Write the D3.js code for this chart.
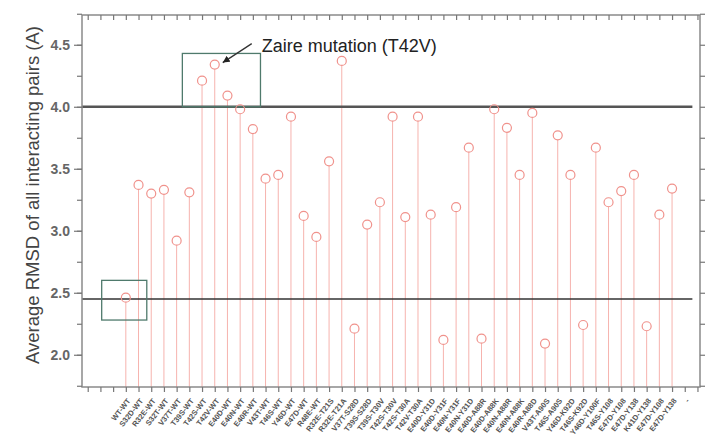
<!DOCTYPE html>
<html>
<head>
<meta charset="utf-8">
<script src="https://cdn.jsdelivr.net/npm/d3@7"></script>
<style>
  body { margin: 0; background: #fff; }
  svg { display: block; font-family: Arial, "Liberation Sans", sans-serif; }
</style>
</head>
<body>
<div id="chart"></div>
<script>
// mutant pair labels (index 0 = wild type)
const labels = [
  'WT-WT', 'S32D-WT', 'R32E-WT', 'S32T-WT', 'V37T-WT', 'T39S-WT', 'T42S-WT', 'T42V-WT',
  'E40D-WT', 'E40N-WT', 'E40R-WT', 'V43T-WT', 'T46S-WT', 'Y46D-WT', 'E47D-WT', 'R48E-WT',
  'R32E-T21S', 'R32E-T21A', 'V37T-S28D', 'T39S-S28D', 'T39S-T30V', 'T42S-T30V', 'T42S-T30A',
  'T42V-T30A', 'E40D-Y31D', 'E40D-Y31F', 'E40N-Y31F', 'E40N-Y31D', 'E40D-A88R', 'E40D-A88K',
  'E40N-A88R', 'E40N-A88K', 'E40R-A88D', 'V43T-A90S', 'T46S-A90S', 'Y46D-K92D', 'T46S-K92D',
  'Y46D-Y100F', 'T46S-Y108', 'E47D-Y108', 'E47D-Y138', 'K41D-Y138', 'E47D-Y108', 'E47D-Y138'
];
// average RMSD of all interacting pairs (A)
const rmsd = [
  2.46, 3.37, 3.30, 3.33, 2.92, 3.31, 4.21, 4.34,
  4.09, 3.98, 3.82, 3.42, 3.45, 3.92, 3.12, 2.95,
  3.56, 4.37, 2.21, 3.05, 3.23, 3.92, 3.11,
  3.92, 3.13, 2.12, 3.19, 3.67, 2.13, 3.98,
  3.83, 3.45, 3.95, 2.09, 3.77, 3.45, 2.24,
  3.67, 3.23, 3.32, 3.45, 2.23, 3.13, 3.34
];
const yTicks = [2.0, 2.5, 3.0, 3.5, 4.0, 4.5];
const refLines = [4.0, 2.45];
// highlight boxes: [x0, x1] in category index, [y0, y1] in RMSD
const boxes = [
  { x: [-1.9, 1.65], y: [2.28, 2.6] },
  { x: [4.45, 10.6], y: [4.0, 4.43] }
];
const note = { text: 'Zaire mutation (T42V)', target: 7 };

const width = 706, height = 445;
const m = { left: 82, right: 700, top: 15, bottom: 387 };

const svg = d3.select('#chart').append('svg')
  .attr('width', width)
  .attr('height', height);

const x = d3.scaleLinear().domain([-3.45, 45.2]).range([m.left, m.right]);
const y = d3.scaleLinear().domain([1.74, 4.74]).range([m.bottom, m.top]);

const xTickIdx = d3.range(-3, 46);
const pink = '#f0928c';

// stems
svg.append('g').selectAll('line')
  .data(rmsd)
  .join('line')
  .attr('x1', (d, i) => x(i))
  .attr('x2', (d, i) => x(i))
  .attr('y1', y(1.74))
  .attr('y2', d => y(d) + 4.5)
  .attr('stroke', '#f6b3ae')
  .attr('stroke-width', 1);

// reference lines
svg.append('g').selectAll('line')
  .data(refLines)
  .join('line')
  .attr('x1', m.left)
  .attr('x2', x(44.6))
  .attr('y1', d => y(d))
  .attr('y2', d => y(d))
  .attr('stroke', (d, i) => i === 0 ? '#555' : '#333')
  .attr('stroke-width', (d, i) => i === 0 ? 2.5 : 1.6);

// boxes
svg.append('g').selectAll('rect')
  .data(boxes)
  .join('rect')
  .attr('x', d => x(d.x[0]))
  .attr('y', d => y(d.y[1]))
  .attr('width', d => x(d.x[1]) - x(d.x[0]))
  .attr('height', d => y(d.y[0]) - y(d.y[1]))
  .attr('fill', 'none')
  .attr('stroke', '#4f7a6c')
  .attr('stroke-width', 1.3);

// markers
svg.append('g').selectAll('circle')
  .data(rmsd)
  .join('circle')
  .attr('cx', (d, i) => x(i))
  .attr('cy', d => y(d))
  .attr('r', 4.5)
  .attr('fill', 'none')
  .attr('stroke', pink)
  .attr('stroke-width', 1.2);

// frame
svg.append('rect')
  .attr('x', m.left).attr('y', m.top)
  .attr('width', m.right - m.left).attr('height', m.bottom - m.top)
  .attr('fill', 'none')
  .attr('stroke', '#8a8a8a')
  .attr('stroke-width', 1.5);

// axes
const yMinor = d3.range(1.75, 4.76, 0.25);
const axisStyle = g => {
  g.select('.domain').remove();
  g.selectAll('line').attr('stroke', '#777').attr('stroke-width', 1.2);
};

svg.append('g')
  .attr('transform', `translate(${m.left},0)`)
  .call(d3.axisLeft(y).tickValues(yMinor).tickSize(5).tickFormat(''))
  .call(axisStyle);
svg.append('g')
  .attr('transform', `translate(${m.left},0)`)
  .call(d3.axisLeft(y).tickValues(yTicks).tickSize(8).tickPadding(4).tickFormat(d3.format('.1f')))
  .call(axisStyle)
  .call(g => g.selectAll('text')
    .attr('font-size', 14).attr('font-weight', 'bold').attr('fill', '#666'));
svg.append('g')
  .attr('transform', `translate(${m.right},0)`)
  .call(d3.axisLeft(y).tickValues(yMinor).tickSize(-5).tickFormat(''))
  .call(axisStyle);
svg.append('g')
  .attr('transform', `translate(0,${m.bottom})`)
  .call(d3.axisBottom(x).tickValues(xTickIdx).tickSize(5).tickFormat(''))
  .call(axisStyle);
svg.append('g')
  .attr('transform', `translate(0,${m.top})`)
  .call(d3.axisBottom(x).tickValues(xTickIdx).tickSize(5).tickFormat(''))
  .call(axisStyle);

// category labels
const catLabels = labels.concat(['-']);
svg.append('g').selectAll('text')
  .data(catLabels)
  .join('text')
  .attr('transform', (d, i) => `translate(${x(i) + 5},${m.bottom + 14}) rotate(-52)`)
  .attr('text-anchor', 'end')
  .attr('font-size', 7.6)
  .attr('font-weight', 'bold')
  .attr('fill', '#555')
  .text(d => d);

// y title
svg.append('text')
  .attr('transform', `translate(39,${(m.top + m.bottom) / 2 - 6}) rotate(-90)`)
  .attr('text-anchor', 'middle')
  .attr('font-size', 18.5)
  .attr('fill', '#444')
  .text('Average RMSD of all interacting pairs (A)');

// annotation
svg.append('defs').append('marker')
  .attr('id', 'arrow')
  .attr('viewBox', '0 -5 10 10')
  .attr('refX', 10).attr('refY', 0)
  .attr('markerWidth', 7).attr('markerHeight', 7)
  .attr('markerUnits', 'userSpaceOnUse')
  .attr('orient', 'auto')
  .append('path')
  .attr('d', 'M0,-5L10,0L0,5Z')
  .attr('fill', '#222');

const tx = x(note.target), ty = y(rmsd[note.target]);
svg.append('line')
  .attr('x1', tx + 37).attr('y1', ty - 21)
  .attr('x2', tx + 8).attr('y2', ty - 2)
  .attr('stroke', '#333')
  .attr('stroke-width', 1.3)
  .attr('marker-end', 'url(#arrow)');

svg.append('text')
  .attr('x', tx + 47)
  .attr('y', ty - 13)
  .attr('font-size', 18)
  .attr('fill', '#222')
  .text(note.text);
</script>
</body>
</html>
